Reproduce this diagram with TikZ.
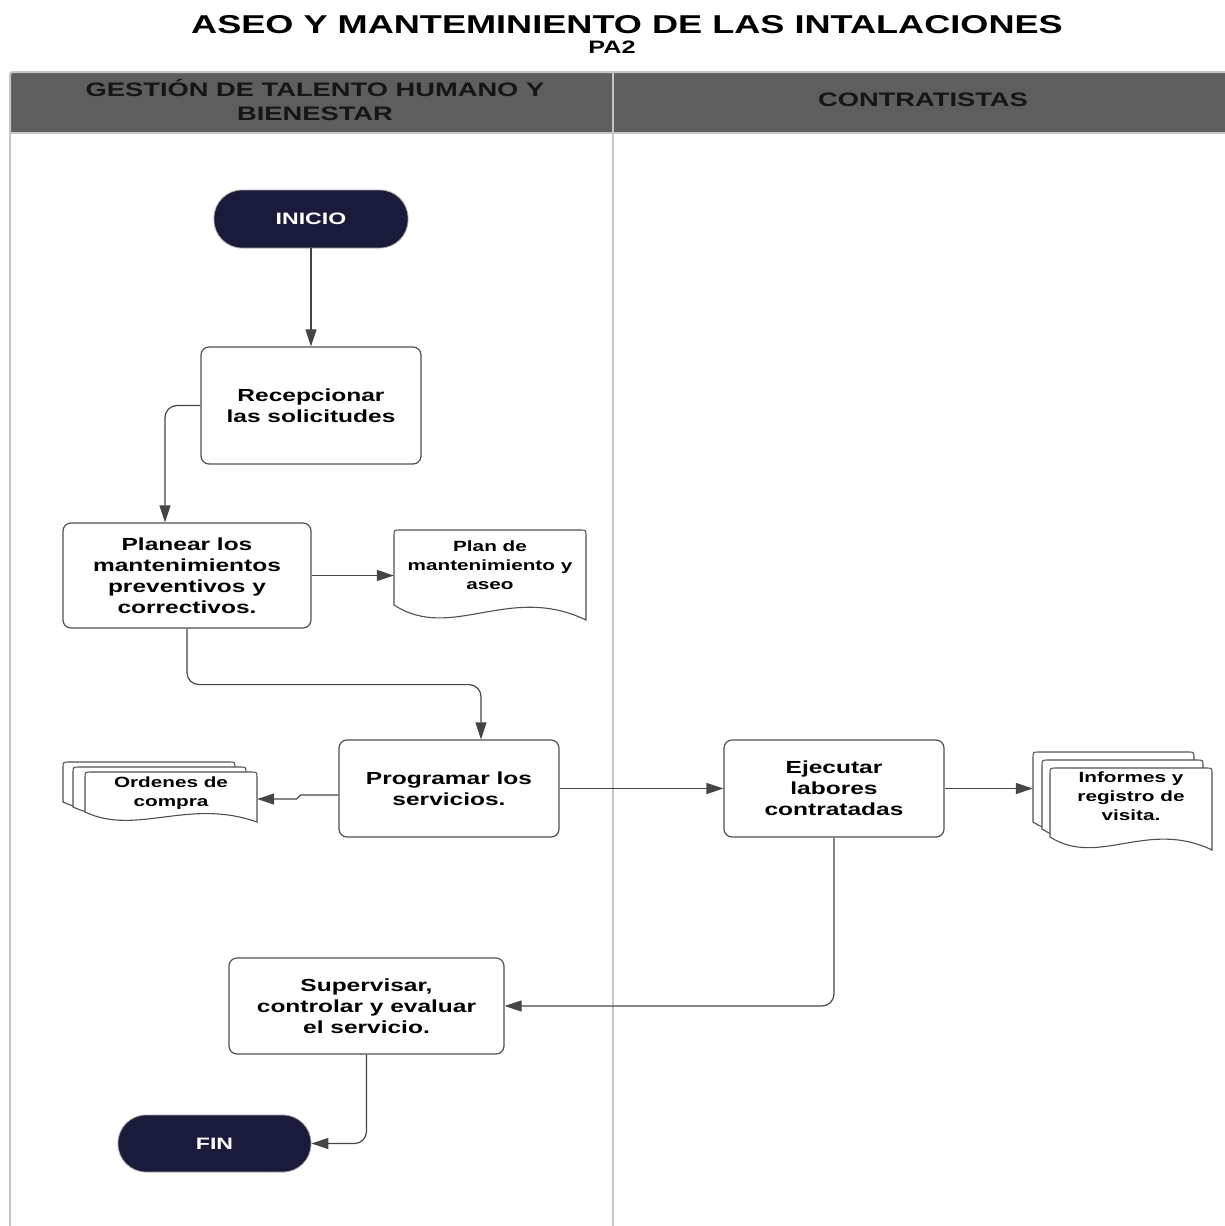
\documentclass[tikz,border=0pt]{standalone}
\usepackage{fontspec}
\setmainfont{Liberation Sans}
\newfontfamily\wsans[FakeStretch=1.4]{Liberation Sans}
\usetikzlibrary{arrows.meta,calc}

\definecolor{navy}{HTML}{1A1A3A}
\definecolor{hdrgray}{HTML}{5E5E5E}
\definecolor{laneline}{HTML}{C6C6C6}
\definecolor{boxline}{HTML}{505050}
\definecolor{edge}{HTML}{454545}
\definecolor{hdrtext}{HTML}{161616}

\newcommand\boxtext{\wsans\bfseries\fontsize{17.5}{21}\selectfont}
\newcommand\doctext{\wsans\bfseries\fontsize{14.8}{19}\selectfont}
\newcommand\termtext{\wsans\bfseries\fontsize{16.5}{20}\selectfont}
\newcommand\hdrfont{\wsans\bfseries\fontsize{19.5}{24}\selectfont}

% document outline: left x, top y, right x, left bottom y, right bottom y, wave depth
\newcommand\docshape[6]{%
  \draw[docline] (#1,#4) -- (#1,{#2+6}) .. controls (#1,#2) .. ({#1+6},#2)
    -- ({#3-6},#2) .. controls (#3,#2) .. (#3,{#2+6}) -- (#3,#5)
    .. controls ({#1+0.6*(#3-#1)},{#4-1.3*#6}) and ({#1+0.3*(#3-#1)},{#4+2.2*#6}) .. (#1,#4)
    -- cycle;}

\tikzset{
  proc/.style={draw=boxline, line width=1.2pt, rounded corners=8pt, fill=white,
    align=center, inner sep=0pt, font=\boxtext},
  term/.style={fill=navy, draw=gray!70, line width=0.8pt, rounded corners=28pt,
    text=white, font=\termtext, inner sep=0pt},
  docline/.style={draw=boxline, line width=1.1pt, fill=white},
  doclabel/.style={align=center, inner sep=0pt, font=\doctext},
  flow/.style={draw=edge, line width=1.2pt, rounded corners=12pt,
    -{Triangle[length=17pt,width=11pt]}},
  lane/.style={draw=laneline, line width=2pt},
  hdr/.style={align=center, inner sep=0pt, font=\hdrfont, text=hdrtext},
}

\begin{document}
\begin{tikzpicture}[x=1pt,y=-1pt]
\useasboundingbox (0,0) rectangle (1224,1226);

% title
\node[anchor=base, font=\wsans\bfseries\fontsize{25.8}{30}\selectfont] (title) at (627,33)
  {ASEO Y MANTEMINIENTO DE LAS INTALACIONES};
\node[anchor=base, font=\wsans\bfseries\fontsize{18}{22}\selectfont] (code) at (612,53) {PA2};

% swimlanes
\fill[hdrgray] (10,133) -- (10,78) .. controls (10,72) .. (16,72) -- (1230,72) -- (1230,133) -- cycle;
\draw[lane] (10,1240) -- (10,78) .. controls (10,72) .. (16,72) -- (1230,72);
\draw[lane] (613,72) -- (613,1240);
\draw[lane] (10,133) -- (1230,133);
\node[hdr] (lane1) at (315,100) {GESTIÓN DE TALENTO HUMANO Y\\BIENESTAR};
\node[hdr] (lane2) at (923,100) {CONTRATISTAS};

% documents
\docshape{394}{530}{586}{605}{620}{17}
\node[doclabel, minimum width=192pt] (plandoc) at (490,565) {Plan de\\mantenimiento y\\aseo};

\docshape{63}{762}{235}{802}{812}{11}
\docshape{73}{767}{246}{807}{817}{11}
\docshape{85}{772}{257}{812}{822}{11}
\node[doclabel, minimum width=172pt] (ordenes) at (171,793.5) {Ordenes de\\compra};

\docshape{1033}{752}{1194}{822}{834}{14}
\docshape{1042}{760}{1203}{829}{842}{14}
\docshape{1050}{768}{1212}{837}{850}{14}
\node[doclabel, minimum width=162pt] (informes) at (1131,796.5) {Informes y\\registro de\\visita.};

% process steps
\node[term, minimum width=194pt, minimum height=58pt] (inicio) at (311,219) {INICIO};
\node[proc, minimum width=220pt, minimum height=117pt] (recep) at (311,405.5) {Recepcionar\\las solicitudes};
\node[proc, minimum width=248pt, minimum height=105pt] (planear) at (187,575.5) {Planear los\\mantenimientos\\preventivos y\\correctivos.};
\node[proc, minimum width=220pt, minimum height=97pt] (prog) at (449,788.5) {Programar los\\servicios.};
\node[proc, minimum width=220pt, minimum height=97pt] (ejec) at (834,788.5) {Ejecutar\\labores\\contratadas};
\node[proc, minimum width=275pt, minimum height=96pt] (superv) at (366.5,1006) {Supervisar,\\controlar y evaluar\\el servicio.};
\node[term, minimum width=193pt, minimum height=57pt] (fin) at (214.5,1143.5) {FIN};

% connectors
\draw[flow] (inicio.south) -- (recep.north);
\draw[flow] (recep.west) -| ($(planear.north)+(-22,0)$);
\draw[flow] (planear.east) -- (planear.east -| plandoc.west);
\draw[flow] (planear.south) -- ++(0,56) -| ($(prog.north)+(32,0)$);
\draw[flow, rounded corners=0pt] ($(prog.west)+(0,6.5)$) -- ++(-38,0) -- ++(-4,4) -- ($(ordenes.east)+(0,5.5)$);
\draw[flow] (prog.east) -- (ejec.west);
\draw[flow] (ejec.east) -- ($(ejec.east -| informes.west)+(-17,0)$);
\draw[flow] (ejec.south) |- (superv.east);
\draw[flow] (superv.south) |- (fin.east);
\end{tikzpicture}
\end{document}
